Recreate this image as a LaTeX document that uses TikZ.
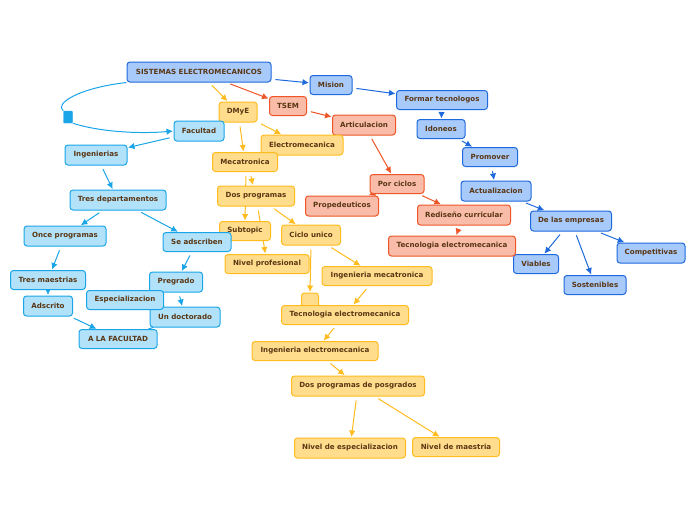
\documentclass[tikz,border=0pt]{standalone}
\usepackage{fontspec}
\setmainfont{DejaVu Sans}
\usetikzlibrary{arrows.meta,backgrounds}
\definecolor{txt}{RGB}{90,55,20}
\definecolor{bF}{RGB}{168,202,250}\definecolor{bD}{RGB}{30,105,220}
\definecolor{rF}{RGB}{248,188,168}\definecolor{rD}{RGB}{240,85,40}
\definecolor{yF}{RGB}{255,221,140}\definecolor{yD}{RGB}{255,188,30}
\definecolor{cF}{RGB}{178,226,250}\definecolor{cD}{RGB}{25,165,232}
\tikzset{
 bx/.style={rounded corners=3pt, line width=1pt, text=txt, inner sep=0pt,
   font=\fontsize{7.1}{8}\selectfont\bfseries},
 bb/.style={bx, draw=bD, fill=bF},
 rb/.style={bx, draw=rD, fill=rF},
 yb/.style={bx, draw=yD, fill=yF},
 cb/.style={bx, draw=cD, fill=cF},
 con/.style={line width=1pt, -{Latex[length=6.5pt,width=6.5pt]}, shorten <=4pt, shorten >=0.5pt},
 bl/.style={con, draw=bD},
 rl/.style={con, draw=rD},
 yl/.style={con, draw=yD},
 cl/.style={con, draw=cD},
 sz/.style 2 args={minimum width=#1pt, minimum height=#2pt}
}
\begin{document}
\begin{tikzpicture}[x=1pt,y=-1pt]
\useasboundingbox (0,0) rectangle (696,520);
% blue
\node[bb,sz={144}{20}] (S) at (199,72) {SISTEMAS ELECTROMECANICOS};
\node[bb,sz={42}{19}] (mis) at (331,85) {Mision};
\node[bb,sz={91}{19}] (ftec) at (442,100) {Formar tecnologos};
\node[bb,sz={48}{19}] (ido) at (441,129) {Idoneos};
\node[bb,sz={55}{19}] (pro) at (490,157) {Promover};
\node[bb,sz={70}{20}] (act) at (496,191) {Actualizacion};
\node[bb,sz={81}{20}] (emp) at (571,221) {De las empresas};
\node[bb,sz={45}{19}] (via) at (536,264) {Viables};
\node[bb,sz={62}{19}] (sos) at (595,285) {Sostenibles};
\node[bb,sz={68}{20}] (com) at (651,253) {Competitivas};
% salmon
\node[rb,sz={37}{19}] (tsem) at (288,106) {TSEM};
\node[rb,sz={63}{20}] (art) at (364,125) {Articulacion};
\node[rb,sz={54}{19}] (cic) at (397,184) {Por ciclos};
\node[rb,sz={73}{20}] (prop) at (342,206) {Propedeuticos};
\node[rb,sz={93}{20}] (red) at (464,215) {Rediseño curricular};
\node[rb,sz={127}{20}] (tecR) at (452,246) {Tecnologia electromecanica};
% yellow
\node[yb,sz={38}{20}] (dmye) at (238,112) {DMyE};
\node[yb,sz={82}{20}] (elec) at (302,145) {Electromecanica};
\node[yb,sz={65}{19}] (meca) at (245,162) {Mecatronica};
\node[yb,sz={77}{20}] (dosp) at (256,196) {Dos programas};
\node[yb,sz={51}{19}] (subt) at (245,231) {Subtopic};
\node[yb,sz={59}{20}] (cu) at (311,235) {Ciclo unico};
\node[yb,sz={84}{19}] (nprof) at (267,264) {Nivel profesional};
\node[yb,sz={110}{19}] (imeca) at (377,276) {Ingenieria mecatronica};
\node[yb,sz={17}{16}] (blank) at (310,301) {};
\node[yb,sz={127}{19}] (tecY) at (345,315) {Tecnologia electromecanica};
\node[yb,sz={126}{19}] (ielec) at (315,351) {Ingenieria electromecanica};
\node[yb,sz={133}{20}] (dpp) at (358,386) {Dos programas de posgrados};
\node[yb,sz={111}{20}] (nesp) at (350,448) {Nivel de especializacion};
\node[yb,sz={87}{19}] (nmae) at (456,447) {Nivel de maestria};
% cyan
\node[cb,sz={50}{20}] (fac) at (199,131) {Facultad};
\node[cb,sz={62}{20}] (ing) at (96,155) {Ingenierias};
\node[cb,sz={96}{20}] (tdep) at (118,200) {Tres departamentos};
\node[cb,sz={82}{20}] (once) at (65,236) {Once programas};
\node[cb,sz={68}{19}] (seads) at (197,242) {Se adscriben};
\node[cb,sz={75}{19}] (tmae) at (48,280) {Tres maestrias};
\node[cb,sz={49}{20}] (adsc) at (48,306) {Adscrito};
\node[cb,sz={53}{20}] (preg) at (176,282) {Pregrado};
\node[cb,sz={70}{20}] (udoc) at (185,317) {Un doctorado};
\node[cb,sz={77}{19}] (espe) at (125,300) {Especializacion};
\node[cb,sz={78}{19}] (alaf) at (118,339) {A LA FACULTAD};
\node[draw=cD, fill=cD, rounded corners=1pt, minimum width=9pt, minimum height=12pt, inner sep=0pt] (sq) at (68,117) {};
\begin{pgfonlayer}{background}
\fill[white] (0,0) rectangle (696,520);
% blue
\draw[bl] (S) -- (mis);
\draw[bl] (mis) -- (ftec);
\draw[bl] (ftec) -- (ido);
\draw[bl] (ido) -- (pro);
\draw[bl] (pro) -- (act);
\draw[bl] (act) -- (emp);
\draw[bl] (emp) -- (via);
\draw[bl] (emp) -- (sos);
\draw[bl] (emp) -- (com);
% salmon
\draw[rl] (S) -- (tsem);
\draw[rl] (tsem) -- (art);
\draw[rl] (art) -- (cic);
\draw[rl] (cic) -- (prop);
\draw[rl] (cic) -- (red);
\draw[rl] (red) -- (tecR);
% yellow
\draw[yl] (S) -- (dmye);
\draw[yl] (dmye) -- (elec);
\draw[yl] (dmye) -- (meca);
\draw[yl] ([xshift=5pt]meca.south) -- ([xshift=-3pt]dosp.north);
\draw[yl] ([xshift=1pt]meca.south) -- (subt.north);
\draw[yl] (dosp) -- (nprof);
\draw[yl] (dosp) -- (cu);
\draw[yl] (cu.south) -- (blank.north);
\draw[yl] (cu) -- (imeca);
\draw[yl] (imeca) -- (tecY);
\draw[yl] (tecY) -- (ielec);
\draw[yl] (ielec) -- (dpp);
\draw[yl] (dpp) -- (nesp);
\draw[yl] (dpp) -- (nmae);
% cyan
\draw[cD, line width=1pt] (S.south west) .. controls (78,88) and (54,104) .. (sq.north west);
\draw[cl, shorten <=0pt] (sq.south east) .. controls (100,132) and (140,134) .. (fac.west);
\draw[cl] (fac) -- (ing);
\draw[cl] (ing) -- (tdep);
\draw[cl] (tdep) -- (once);
\draw[cl] (tdep) -- (seads);
\draw[cl] (once) -- (tmae);
\draw[cl] (tmae) -- (adsc);
\draw[cl] (adsc) -- (alaf);
\draw[cl] (seads) -- (preg);
\draw[cl] (preg) -- (udoc);
\draw[cD, line width=1pt] (udoc) -- (alaf);
\end{pgfonlayer}
\end{tikzpicture}
\end{document}
